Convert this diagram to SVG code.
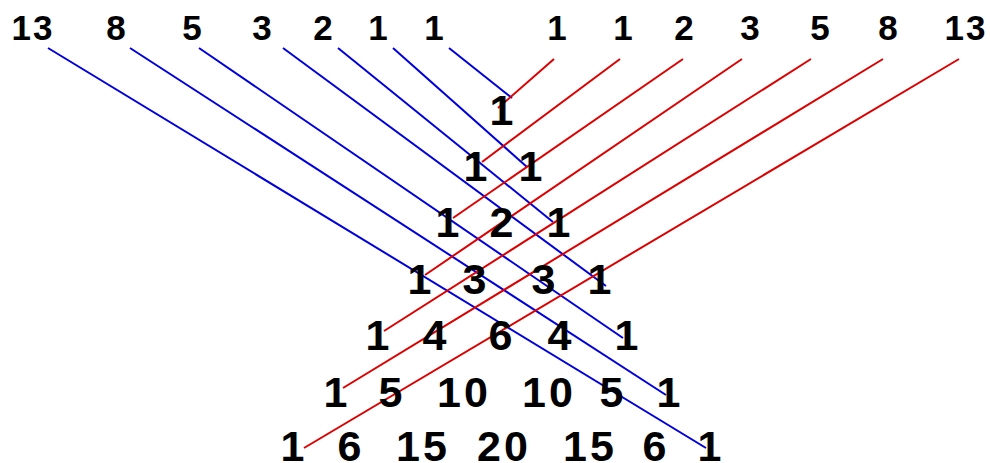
<svg xmlns="http://www.w3.org/2000/svg" width="990" height="463" viewBox="0 0 990 463">
<style>
.b{stroke:#0000dd;stroke-width:2;fill:none}
.r{stroke:#dd0000;stroke-width:2;fill:none}
text{font-family:"Liberation Sans",Arial,sans-serif;font-weight:bold;fill:#000;text-anchor:middle}
.t{font-size:35px;letter-spacing:2px}
.p{font-size:43px;letter-spacing:3px}
</style>
<rect width="990" height="463" fill="#fff"/>
<g id="connectors">
<line class="b" x1="449" y1="48" x2="512" y2="98"/>
<line class="b" x1="393" y1="48" x2="527" y2="167"/>
<line class="b" x1="338" y1="48" x2="553" y2="222"/>
<line class="b" x1="283" y1="48" x2="606" y2="286"/>
<line class="b" x1="199" y1="48" x2="623" y2="338"/>
<line class="b" x1="130" y1="48" x2="666" y2="395"/>
<line class="b" x1="48" y1="48" x2="706" y2="448"/>
<line class="r" x1="554" y1="59" x2="498" y2="108"/>
<line class="r" x1="620" y1="59" x2="482" y2="162"/>
<line class="r" x1="683" y1="59" x2="453" y2="218"/>
<line class="r" x1="742" y1="59" x2="425" y2="275"/>
<line class="r" x1="811" y1="59" x2="384" y2="331"/>
<line class="r" x1="883" y1="59" x2="343" y2="388"/>
<line class="r" x1="959" y1="59" x2="304" y2="448"/>
</g>
<g id="top-left">
<g id="tl13"><text class="t" x="33" y="40">13</text></g>
<g id="tl8"><text class="t" x="117" y="40">8</text></g>
<g id="tl5"><text class="t" x="193" y="40">5</text></g>
<g id="tl3"><text class="t" x="263" y="40">3</text></g>
<g id="tl2"><text class="t" x="324" y="40">2</text></g>
<g id="tl1a"><text class="t" x="379" y="40">1</text></g>
<g id="tl1b"><text class="t" x="435" y="40">1</text></g>
</g>
<g id="top-right">
<g id="tr1a"><text class="t" x="558" y="40">1</text></g>
<g id="tr1b"><text class="t" x="624" y="40">1</text></g>
<g id="tr2"><text class="t" x="685" y="40">2</text></g>
<g id="tr3"><text class="t" x="751" y="40">3</text></g>
<g id="tr5"><text class="t" x="821" y="40">5</text></g>
<g id="tr8"><text class="t" x="889" y="40">8</text></g>
<g id="tr13"><text class="t" x="966" y="40">13</text></g>
</g>
<g id="row0"><text class="p" x="503" y="125">1</text></g>
<g id="row1"><text class="p" x="477" y="181">1</text><text class="p" x="532" y="181">1</text></g>
<g id="row2"><text class="p" x="449" y="237">1</text><text class="p" x="503" y="237">2</text><text class="p" x="560" y="237">1</text></g>
<g id="row3"><text class="p" x="421" y="294">1</text><text class="p" x="476" y="294">3</text><text class="p" x="545" y="294">3</text><text class="p" x="601" y="294">1</text></g>
<g id="row4"><text class="p" x="379" y="350">1</text><text class="p" x="436" y="350">4</text><text class="p" x="502" y="350">6</text><text class="p" x="561" y="350">4</text><text class="p" x="628" y="350">1</text></g>
<g id="row5"><text class="p" x="337" y="407">1</text><text class="p" x="392" y="407">5</text><text class="p" x="464" y="407">10</text><text class="p" x="549" y="407">10</text><text class="p" x="613" y="407">5</text><text class="p" x="670" y="407">1</text></g>
<g id="row6"><text class="p" x="294" y="461">1</text><text class="p" x="351" y="461">6</text><text class="p" x="423" y="461">15</text><text class="p" x="504" y="461">20</text><text class="p" x="590" y="461">15</text><text class="p" x="656" y="461">6</text><text class="p" x="711" y="461">1</text></g>
</svg>
